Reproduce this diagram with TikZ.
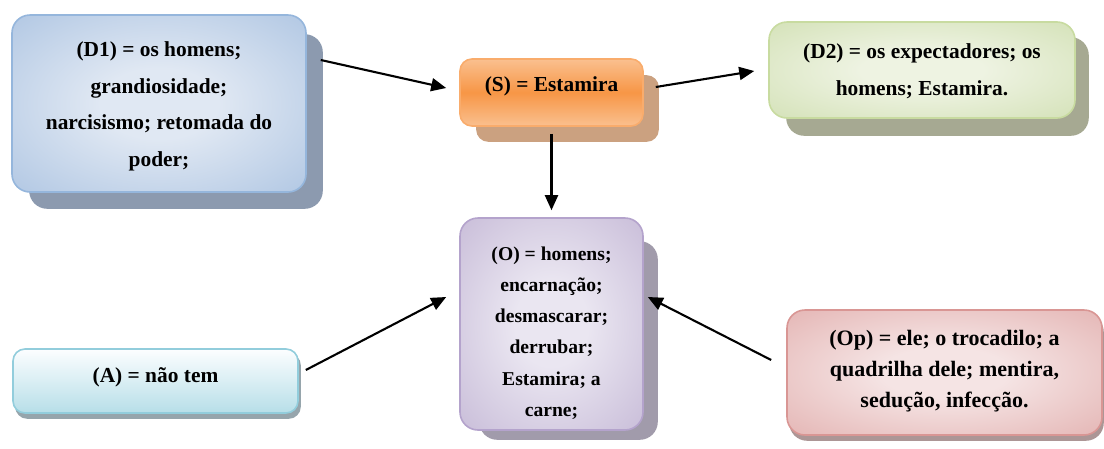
\documentclass[tikz,border=0pt]{standalone}
\usepackage{fontspec}
\setmainfont{Liberation Serif}
\usetikzlibrary{arrows.meta,calc,backgrounds}

% box colours
\definecolor{dOneIn}{RGB}{224,232,243}
\definecolor{dOneOut}{RGB}{141,174,215}
\definecolor{dOneEdge}{RGB}{149,182,220}
\definecolor{dOneShadow}{RGB}{140,154,175}
\definecolor{sLight}{RGB}{250,192,143}
\definecolor{sDark}{RGB}{247,150,70}
\definecolor{sEdge}{RGB}{249,172,108}
\definecolor{sShadow}{RGB}{203,161,128}
\definecolor{dTwoIn}{RGB}{238,243,226}
\definecolor{dTwoOut}{RGB}{190,211,148}
\definecolor{dTwoEdge}{RGB}{200,219,160}
\definecolor{dTwoShadow}{RGB}{166,169,146}
\definecolor{oIn}{RGB}{234,230,241}
\definecolor{oOut}{RGB}{172,154,196}
\definecolor{oEdge}{RGB}{180,163,204}
\definecolor{oShadow}{RGB}{161,155,171}
\definecolor{aTop}{RGB}{252,254,255}
\definecolor{aBottom}{RGB}{183,222,232}
\definecolor{aEdge}{RGB}{146,205,220}
\definecolor{aShadow}{RGB}{150,165,172}
\definecolor{opIn}{RGB}{245,228,228}
\definecolor{opOut}{RGB}{214,142,140}
\definecolor{opEdge}{RGB}{217,150,148}
\definecolor{opShadow}{RGB}{172,150,150}

% centre-lit fills for the larger boxes
\pgfdeclareradialshading{dOneGlow}{\pgfpoint{0bp}{0bp}}{color(0bp)=(dOneIn); color(10bp)=(dOneIn); color(56bp)=(dOneOut); color(75bp)=(dOneOut)}
\pgfdeclareradialshading{dTwoGlow}{\pgfpoint{0bp}{0bp}}{color(0bp)=(dTwoIn); color(10bp)=(dTwoIn); color(58bp)=(dTwoOut); color(75bp)=(dTwoOut)}
\pgfdeclareradialshading{oGlow}{\pgfpoint{0bp}{0bp}}{color(0bp)=(oIn); color(10bp)=(oIn); color(58bp)=(oOut); color(75bp)=(oOut)}
\pgfdeclareradialshading{opGlow}{\pgfpoint{0bp}{0bp}}{color(0bp)=(opIn); color(10bp)=(opIn); color(58bp)=(opOut); color(75bp)=(opOut)}

\begin{document}
\begin{tikzpicture}[x=1pt,y=-1pt,
  box/.style={rectangle, rounded corners=18pt, inner sep=0pt, line width=1.6pt},
  boxtext/.style={align=center, inner sep=0pt, font=\fontsize{21.4}{36.5}\selectfont\bfseries},
  objtext/.style={align=center, inner sep=0pt, font=\fontsize{19.6}{31.2}\selectfont\bfseries},
  optext/.style={align=center, inner sep=0pt, font=\fontsize{22}{31}\selectfont\bfseries},
  link/.style={line width=2.1pt, -{Triangle[length=15pt,width=13pt]}},
]
\useasboundingbox (0,0) rectangle (1104,448);

% boxes
\node[box, draw=dOneEdge, shading=dOneGlow, minimum width=294pt, minimum height=177pt] (d1) at (159,103.5) {};
\node[box, draw=sEdge, top color=sLight, bottom color=sLight, middle color=sDark, rounded corners=12pt, minimum width=183pt, minimum height=67pt] (s) at (551.5,92.5) {};
\node[box, draw=dTwoEdge, shading=dTwoGlow, minimum width=306pt, minimum height=96pt] (d2) at (922,70) {};
\node[box, draw=oEdge, shading=oGlow, minimum width=183pt, minimum height=212pt] (o) at (551.5,324) {};
\node[box, draw=aEdge, top color=aTop, bottom color=aBottom, rounded corners=12pt, minimum width=285pt, minimum height=64pt] (a) at (155.5,381) {};
\node[box, draw=opEdge, shading=opGlow, minimum width=315pt, minimum height=125pt] (op) at (944.5,372.5) {};

% drop shadows behind the boxes
\begin{scope}[on background layer]
  \fill[dOneShadow, rounded corners=18pt] ($(d1.south west)+(18,16)$) rectangle ($(d1.north east)+(16,20)$);
  \fill[sShadow, rounded corners=12pt] ($(s.south west)+(17,15)$) rectangle ($(s.north east)+(15,17)$);
  \fill[dTwoShadow, rounded corners=18pt] ($(d2.south west)+(18,17)$) rectangle ($(d2.north east)+(13,16)$);
  \fill[oShadow, rounded corners=18pt] ($(o.south west)+(20,9)$) rectangle ($(o.north east)+(14,24)$);
  \fill[aShadow, rounded corners=12pt] ($(a.south west)+(3,5)$) rectangle ($(a.north east)+(2,5)$);
  \fill[opShadow, rounded corners=18pt] ($(op.south west)+(3,5)$) rectangle ($(op.north east)+(1,5)$);
\end{scope}

% texts
\node[boxtext] (d1-t) at ($(d1.center)+(0,3)$) {(D1) = os homens;\\grandiosidade;\\narcisismo; retomada do\\poder;};
\node[boxtext] (s-t) at ($(s.center)+(0,-6)$) {(S) = Estamira};
\node[boxtext] (d2-t) at ($(d2.center)+(0,1)$) {(D2) = os expectadores; os\\homens; Estamira.};
\node[objtext] (o-t) at ($(o.center)+(0,9)$) {(O) = homens;\\encarnação;\\desmascarar;\\derrubar;\\Estamira; a\\carne;};
\node[boxtext] (a-t) at ($(a.center)+(0,-4)$) {(A) = não tem};
\node[optext] (op-t) at ($(op.center)+(0,-1)$) {(Op) = ele; o trocadilo; a\\quadrilha dele; mentira,\\sedução, infecção.};

% connectors
\draw[link] ($(d1.east)+(14,-43.5)$) -- ($(s.west)+(-13,-4.5)$);
\draw[link] ($(s.east)+(12,-5.5)$) -- ($(d2.west)+(-14,1)$);
\draw[link] ($(s.south)+(0,7)$) -- ($(o.north)+(0,-7)$);
\draw[link] ($(a.east)+(7,-11)$) -- ($(o.west)+(-13,-27)$);
\draw[link] ($(op.west)+(-15,-12.5)$) -- ($(o.east)+(4,-27)$);
\end{tikzpicture}
\end{document}
